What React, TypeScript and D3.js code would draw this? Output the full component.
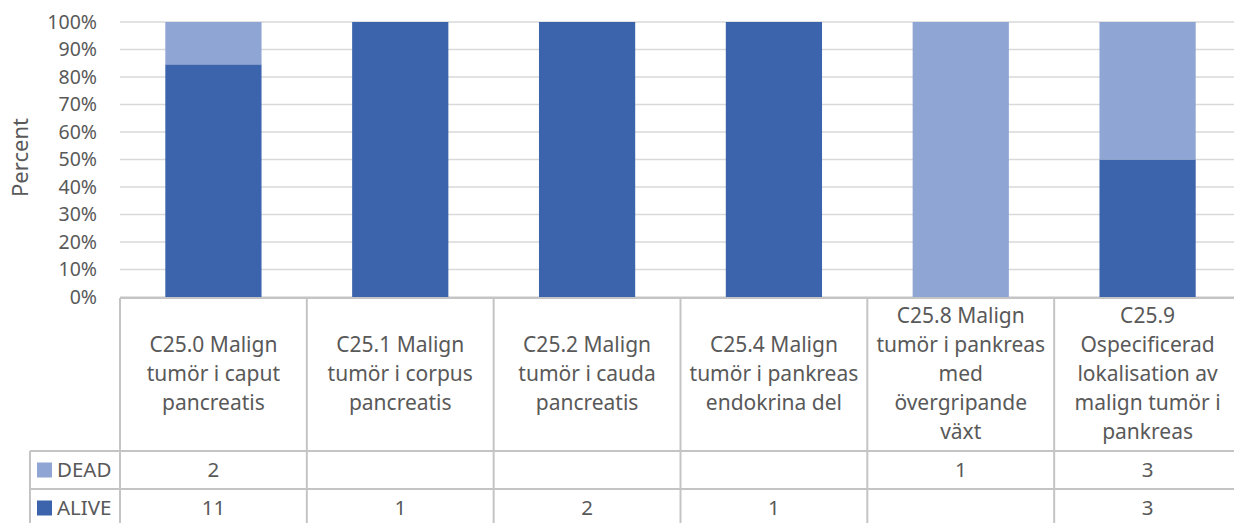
import React from "react";
import * as d3 from "d3";

const categories: string[][] = [
  ["C25.0 Malign", "tumör i caput", "pancreatis"],
  ["C25.1 Malign", "tumör i corpus", "pancreatis"],
  ["C25.2 Malign", "tumör i cauda", "pancreatis"],
  ["C25.4 Malign", "tumör i pankreas", "endokrina del"],
  ["C25.8 Malign", "tumör i pankreas", "med", "övergripande", "växt"],
  ["C25.9", "Ospecificerad", "lokalisation av", "malign tumör i", "pankreas"],
];
const alive: number[] = [11, 1, 2, 1, 0, 3];
const dead: number[] = [2, 0, 0, 0, 1, 3];
const yTicks: number[] = [0, 0.1, 0.2, 0.3, 0.4, 0.5, 0.6, 0.7, 0.8, 0.9, 1.0];

const W = 1234;
const H = 523;
const FONT = "'Noto Sans', sans-serif";
const TEXT = "#595959";
const GRID = "#D9D9D9";
const BORDER = "#C4C4C4";
const C_ALIVE = "#3C64AC";
const C_DEAD = "#8FA5D4";

export default function App() {
  const left = 120;
  const right = 1241;
  const top = 22;
  const bottom = 297;
  const headerBottom = 451;
  const rowH = 38;
  const legendLeft = 30;

  const ids = categories.map((_, i) => String(i));
  const x = d3.scaleBand<string>().domain(ids).range([left, right]).paddingInner(0).paddingOuter(0);
  const y = d3.scaleLinear().domain([0, 1]).range([bottom, top]);
  const bw = x.bandwidth();
  const barW = bw * 0.515;

  const stackData = ids.map((id, i) => {
    const total = alive[i] + dead[i];
    return { id, alive: total ? alive[i] / total : 0, dead: total ? dead[i] / total : 0 };
  });
  const series = d3.stack<any>().keys(["alive", "dead"])(stackData);
  const colors: Record<string, string> = { alive: C_ALIVE, dead: C_DEAD };

  const rows = [
    { label: "DEAD", color: C_DEAD, values: dead },
    { label: "ALIVE", color: C_ALIVE, values: alive },
  ];

  return (
    <svg width={W} height={H} style={{ position: "absolute", left: 0, top: 0 }} fontFamily={FONT}>
      <rect x={0} y={0} width={W} height={H} fill="#fff" />
      {yTicks.map((t) => (
        <line key={"g" + t} x1={left} x2={right} y1={y(t)} y2={y(t)} stroke={GRID} strokeWidth={1.5} />
      ))}
      {yTicks.map((t) => (
        <text key={"t" + t} x={97} y={y(t)} dy="0.35em" textAnchor="end" fontSize={19.5} fill={TEXT}>
          {d3.format(".0%")(t)}
        </text>
      ))}
      <text transform={`translate(20,${(top + bottom) / 2 - 2}) rotate(-90)`} textAnchor="middle" dy="0.35em" fontSize={22} fill={TEXT}>
        Percent
      </text>
      {series.map((s) =>
        s.map((d, i) =>
          d[1] - d[0] > 0 ? (
            <rect
              key={s.key + i}
              x={(x(ids[i]) as number) + (bw - barW) / 2}
              y={y(d[1])}
              width={barW}
              height={y(d[0]) - y(d[1])}
              fill={colors[s.key]}
            />
          ) : null
        )
      )}
      <line x1={left} x2={right} y1={bottom + 1} y2={bottom + 1} stroke={BORDER} strokeWidth={2} />
      {[0, 1].map((r) => (
        <line key={"h" + r} x1={legendLeft} x2={right} y1={headerBottom + r * rowH} y2={headerBottom + r * rowH} stroke={BORDER} strokeWidth={2} />
      ))}
      <line x1={legendLeft} x2={legendLeft} y1={headerBottom} y2={H + 10} stroke={BORDER} strokeWidth={2} />
      {ids.map((id) => (
        <line key={"v" + id} x1={x(id)} x2={x(id)} y1={bottom + 1} y2={H + 10} stroke={BORDER} strokeWidth={2} />
      ))}
      <line x1={right} x2={right} y1={bottom + 1} y2={H + 10} stroke={BORDER} strokeWidth={2} />
      {categories.map((lines, i) => {
        const cx = (x(ids[i]) as number) + bw / 2;
        const cy = (bottom + headerBottom) / 2;
        const lh = 29;
        const y0 = cy - ((lines.length - 1) * lh) / 2;
        return (
          <text key={"c" + i} x={cx} textAnchor="middle" fontSize={21} fill={TEXT}>
            {lines.map((l, j) => (
              <tspan key={j} x={cx} y={y0 + j * lh} dy="0.35em">
                {l}
              </tspan>
            ))}
          </text>
        );
      })}
      {rows.map((row, r) => {
        const ry = headerBottom + r * rowH;
        const cy = ry + rowH / 2;
        return (
          <g key={row.label}>
            <rect x={37} y={cy - 7.5} width={15} height={15} fill={row.color} />
            <text x={57} y={cy} dy="0.35em" fontSize={20.5} fill={TEXT}>
              {row.label}
            </text>
            {row.values.map((v, i) =>
              v ? (
                <text key={i} x={(x(ids[i]) as number) + bw / 2} y={cy} dy="0.35em" textAnchor="middle" fontSize={20.5} fill={TEXT}>
                  {v}
                </text>
              ) : null
            )}
          </g>
        );
      })}
    </svg>
  );
}
